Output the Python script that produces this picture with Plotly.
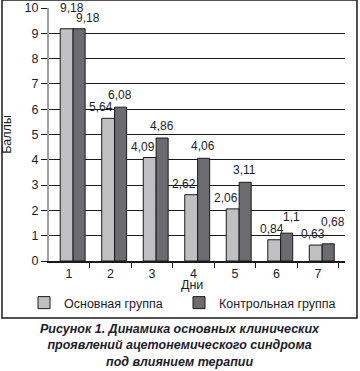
import plotly.graph_objects as go

days = ["1", "2", "3", "4", "5", "6", "7"]
main_group = [9.18, 5.64, 4.09, 2.62, 2.06, 0.84, 0.63]
control_group = [9.18, 6.08, 4.86, 4.06, 3.11, 1.1, 0.68]
y_ticks = list(range(0, 11))

def fmt(v):
    return ("%g" % v).replace(".", ",")

FONT = "Liberation Sans, Arial, sans-serif"
TXT = "#1c1c2c"

L, R, T, B = 49, 15, 8, 110
W, H = 360, 371
pw = W - L - R
ph = H - T - B
px_per_unit = ph / 10.0

def px(x):
    return (x - L) / pw

def py(y):
    return (H - B - y) / ph

fig = go.Figure()
fig.add_trace(go.Bar(
    x=days, y=main_group, name="Основная группа",
    marker=dict(color="#c0c0c2", line=dict(color="#1a1a1a", width=1)),
    width=0.31, offset=-0.21,
    legend="legend", hoverinfo="x+y",
))
fig.add_trace(go.Bar(
    x=days, y=control_group, name="Контрольная группа",
    marker=dict(color="#6b6b70", line=dict(color="#1a1a1a", width=1)),
    width=0.29, offset=0.10,
    legend="legend2", hoverinfo="x+y",
))

annotations = []
for i, (a, b) in enumerate(zip(main_group, control_group)):
    diff_px = abs(a - b) * px_per_unit
    lift = max(0.0, 11 - diff_px) if diff_px < 9 else 0.0
    if lift and a >= b:
        lx, ly, dx, dy = 3, 1 + lift, 19, 2
    elif lift:
        lx, ly, dx, dy = -5, 2, 15, 3 + lift
    else:
        lx, ly, dx, dy = -9, 2, 10, 3
    annotations.append(dict(
        x=i, y=a, xref="x", yref="y", text=fmt(a), showarrow=False,
        xanchor="center", yanchor="bottom", xshift=lx, yshift=ly,
        font=dict(family=FONT, size=12, color=TXT),
    ))
    annotations.append(dict(
        x=i, y=b, xref="x", yref="y", text=fmt(b), showarrow=False,
        xanchor="center", yanchor="bottom", xshift=dx, yshift=dy,
        font=dict(family=FONT, size=12, color=TXT),
    ))

annotations.append(dict(
    xref="paper", yref="paper", x=px(192), y=py(285), xanchor="center", yanchor="middle",
    text="Дни", showarrow=False, font=dict(family=FONT, size=12.5, color=TXT),
))
annotations.append(dict(
    xref="paper", yref="paper", x=px(180), y=py(345), xanchor="center", yanchor="middle",
    text="<b><i>Рисунок 1. Динамика основных клинических<br>проявлений ацетонемического синдрома<br>под влиянием терапии</i></b>",
    showarrow=False, align="center",
    font=dict(family=FONT, size=12.5, color=TXT),
))

leg_common = dict(
    orientation="h", yanchor="middle", y=py(303),
    font=dict(family=FONT, size=12.5, color=TXT),
    itemwidth=30, bgcolor="rgba(0,0,0,0)", xanchor="left",
)

fig.update_layout(
    width=W, height=H,
    margin=dict(l=L, r=R, t=T, b=B, autoexpand=False),
    paper_bgcolor="white", plot_bgcolor="white",
    barmode="group", bargap=0.4, bargroupgap=0.0,
    font=dict(family=FONT, size=12, color=TXT),
    showlegend=True,
    legend=dict(x=px(24), **leg_common),
    legend2=dict(x=px(179), **leg_common),
    xaxis=dict(
        type="category", range=[-0.48, 6.65], automargin=False,
        tickson="boundaries", ticks="outside", ticklen=5, tickcolor="#1a1a1a",
        showline=True, linecolor="#1a1a1a", linewidth=2,
        showgrid=False,
        tickfont=dict(family=FONT, size=12.5, color=TXT),
    ),
    yaxis=dict(
        range=[0, 10], tickvals=y_ticks, automargin=False,
        ticks="outside", ticklen=6, tickcolor="#1a1a1a",
        showline=True, linecolor="#a0a0a0", linewidth=2,
        showgrid=True, gridcolor="#1a1a1a", gridwidth=1,
        zeroline=False,
        tickfont=dict(family=FONT, size=12.5, color=TXT),
        title=dict(text="Баллы", standoff=14, font=dict(family=FONT, size=12.5, color=TXT)),
    ),
    shapes=[dict(
        type="rect", xref="paper", yref="paper",
        x0=px(2), x1=px(357), y0=py(0), y1=py(318),
        line=dict(color="#1a1a1a", width=1.5), fillcolor="rgba(0,0,0,0)", layer="below",
    )],
    annotations=annotations,
)

fig.write_html(
    "out.html",
    config={"displayModeBar": False},
    post_script="document.body.style.margin='0';document.body.style.overflow='hidden';",
)
